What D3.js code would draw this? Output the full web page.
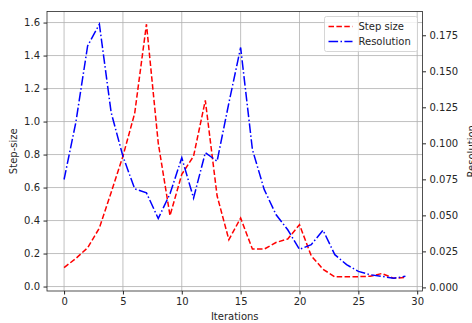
<!DOCTYPE html>
<html>
<head>
<meta charset="utf-8">
<script src="https://cdn.jsdelivr.net/npm/d3@7"></script>
<style>
  body { margin: 0; background: #fff; }
  text { font-family: "DejaVu Sans", sans-serif; }
</style>
</head>
<body>
<div id="chart"></div>
<script>
// data
const iterations = d3.range(0, 30)
const stepSize = [0.115, 0.17, 0.235, 0.355, 0.57, 0.79, 1.05, 1.59, 0.87, 0.43,
  0.68, 0.79, 1.128, 0.55, 0.284, 0.415, 0.227, 0.227, 0.267, 0.288,
  0.375, 0.186, 0.105, 0.059, 0.059, 0.06, 0.062, 0.079, 0.05, 0.055]
const resolution = [0.0749, 0.1145, 0.1676, 0.1827, 0.1214, 0.091, 0.0684, 0.0656, 0.0478, 0.065,
  0.09, 0.062, 0.0935, 0.0876, 0.128, 0.1665, 0.0957, 0.068, 0.0506, 0.040,
  0.0264, 0.0297, 0.0397, 0.0227, 0.0158, 0.0111, 0.0088, 0.0077, 0.0063, 0.0077]
const xTicks = [0, 5, 10, 15, 20, 25, 30]
const leftTicks = [0.0, 0.2, 0.4, 0.6, 0.8, 1.0, 1.2, 1.4, 1.6]
const rightTicks = [0.000, 0.025, 0.050, 0.075, 0.100, 0.125, 0.150, 0.175]

const W = 472, H = 323
const MARGIN = { LEFT: 47, RIGHT: 49.5, TOP: 11.5, BOTTOM: 32 }
const WIDTH = W - MARGIN.LEFT - MARGIN.RIGHT
const HEIGHT = H - MARGIN.TOP - MARGIN.BOTTOM

const svg = d3.select("#chart").append("svg")
  .attr("width", W)
  .attr("height", H)

const g = svg.append("g")
  .attr("transform", `translate(${MARGIN.LEFT}, ${MARGIN.TOP})`)

// scales (matplotlib-style 5% margins)
const x = d3.scaleLinear().domain([-1.45, 30.45]).range([0, WIDTH])
const yL = d3.scaleLinear().domain([-0.027, 1.667]).range([HEIGHT, 0])
const yR = d3.scaleLinear().domain([-0.0025, 0.1915]).range([HEIGHT, 0])

// grid
g.append("g").selectAll("line").data(xTicks).join("line")
  .attr("x1", d => x(d)).attr("x2", d => x(d))
  .attr("y1", 0).attr("y2", HEIGHT)
  .attr("stroke", "#b0b0b0").attr("stroke-width", 0.8)
g.append("g").selectAll("line").data(leftTicks).join("line")
  .attr("x1", 0).attr("x2", WIDTH)
  .attr("y1", d => yL(d)).attr("y2", d => yL(d))
  .attr("stroke", "#b0b0b0").attr("stroke-width", 0.8)

// lines
const lineStep = d3.line().x((d, i) => x(iterations[i])).y(d => yL(d))
const lineRes = d3.line().x((d, i) => x(iterations[i])).y(d => yR(d))

g.append("path")
  .attr("d", lineStep(stepSize))
  .attr("fill", "none").attr("stroke", "red").attr("stroke-width", 1.5)
  .attr("stroke-dasharray", "5.5,2.4")
g.append("path")
  .attr("d", lineRes(resolution))
  .attr("fill", "none").attr("stroke", "blue").attr("stroke-width", 1.5)
  .attr("stroke-dasharray", "9.6,2.4,1.5,2.4")

// axes
function styleAxis(sel) {
  sel.selectAll("text").style("font-size", "10px").attr("fill", "#262626")
  sel.selectAll(".tick line").attr("stroke", "#262626")
  sel.select(".domain").remove()
}
const xAxis = g.append("g").attr("transform", `translate(0, ${HEIGHT})`)
  .call(d3.axisBottom(x).tickValues(xTicks).tickSize(3.5).tickPadding(3.5).tickFormat(d3.format("d")))
styleAxis(xAxis)
const leftAxis = g.append("g")
  .call(d3.axisLeft(yL).tickValues(leftTicks).tickSize(3.5).tickPadding(3.5).tickFormat(d3.format(".1f")))
styleAxis(leftAxis)
const rightAxis = g.append("g").attr("transform", `translate(${WIDTH}, 0)`)
  .call(d3.axisRight(yR).tickValues(rightTicks).tickSize(3.5).tickPadding(3.5).tickFormat(d3.format(".3f")))
styleAxis(rightAxis)

// frame
g.append("rect")
  .attr("width", WIDTH).attr("height", HEIGHT)
  .attr("fill", "none").attr("stroke", "#262626").attr("stroke-width", 0.8)

// axis titles
svg.append("text")
  .attr("x", MARGIN.LEFT + WIDTH / 2).attr("y", H - 3)
  .attr("text-anchor", "middle").style("font-size", "10px").attr("fill", "#262626")
  .text("Iterations")
svg.append("text")
  .attr("transform", `translate(17, ${MARGIN.TOP + HEIGHT / 2}) rotate(-90)`)
  .attr("text-anchor", "middle").style("font-size", "10px").attr("fill", "#262626")
  .text("Step-size")
svg.append("text")
  .attr("transform", `translate(${W + 3}, ${MARGIN.TOP + HEIGHT / 2}) rotate(-90)`)
  .attr("text-anchor", "middle").style("font-size", "10px").attr("fill", "#262626")
  .text("Resolution")

// legend
const legend = g.append("g").attr("transform", `translate(${WIDTH - 98}, 5)`)
legend.append("rect")
  .attr("width", 93).attr("height", 35).attr("rx", 2)
  .attr("fill", "white").attr("fill-opacity", 0.8)
  .attr("stroke", "#cccccc").attr("stroke-width", 0.8)
const items = [
  { label: "Step size", color: "red", dash: "5.5,2.4" },
  { label: "Resolution", color: "blue", dash: "9.6,2.4,1.5,2.4" }
]
items.forEach((it, i) => {
  const yy = 10 + i * 15
  legend.append("line")
    .attr("x1", 4).attr("x2", 28).attr("y1", yy).attr("y2", yy)
    .attr("stroke", it.color).attr("stroke-width", 1.5).attr("stroke-dasharray", it.dash)
  legend.append("text")
    .attr("x", 34).attr("y", yy + 3.5)
    .style("font-size", "10px").attr("fill", "#262626")
    .text(it.label)
})
</script>
</body>
</html>
